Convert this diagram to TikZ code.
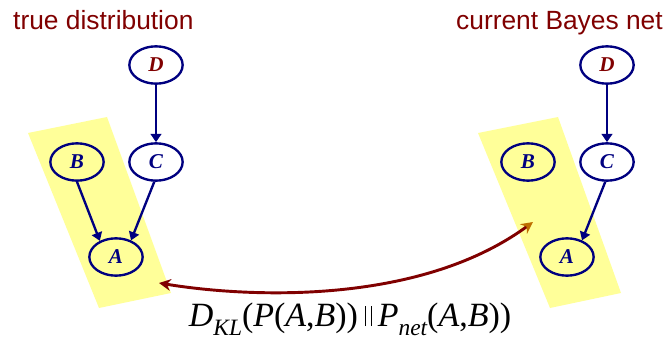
\documentclass[tikz,border=0pt]{standalone}
\usepackage{fontspec}
\setmainfont{Liberation Serif}
\newfontfamily\titlefont{Liberation Sans}
\usetikzlibrary{arrows.meta,shapes.geometric}
\definecolor{darkred}{RGB}{128,0,0}
\definecolor{netblue}{RGB}{0,0,128}
\definecolor{hilite}{RGB}{255,255,153}
\definecolor{tipbrown}{RGB}{190,110,0}
\newcommand{\lowsub}[1]{\raisebox{-8pt}{\fontsize{20}{20}\selectfont\itshape #1}}
\newcommand{\normbars}{\kern6pt\rule{1.2pt}{17pt}\kern3.5pt\rule{1.2pt}{17pt}\kern5pt}
\begin{document}
\begin{tikzpicture}[x=0.03cm, y=-0.03cm,
      var/.style={ellipse, draw=netblue, line width=2pt, minimum width=1.6cm, minimum height=1.12cm, inner sep=0pt, text=netblue, font=\fontsize{18}{18}\selectfont\bfseries\itshape},
      edge/.style={-{Triangle[length=7pt,width=9pt]}, draw=netblue, line width=2pt},
      title/.style={text=darkred, font=\titlefont\fontsize{22.5}{26}\selectfont, inner sep=0pt},
      kl/.style={{Stealth[length=10pt,width=10pt]}-{Stealth[length=10pt,width=10pt,color=tipbrown]}, draw=darkred, line width=2.5pt}
    ]
    \useasboundingbox (0,0) rectangle (668,341);

    % highlighted pairs A,B
    \fill[hilite] (28,133) -- (107,117) -- (171,293) -- (99,308) -- cycle;
    \fill[hilite] (478,133) -- (558,117) -- (621,293) -- (550,308) -- cycle;

    \foreach \g/\dx in {true/0,net/451} {
      \node[var, text=darkred] (D-\g) at (156+\dx,65) {D};
      \node[var] (C-\g) at (156+\dx,162) {C};
      \node[var] (B-\g) at (77+\dx,162) {B};
      \node[var] (A-\g) at (116+\dx,257) {A};
      \draw[edge] (D-\g) -- (C-\g);
      \draw[edge] (C-\g.265) -- (A-\g.48);
    }
    \draw[edge] (B-true.south) -- (A-true.135);

    \node[title, anchor=base west] (ttl-true) at (13,30) {true distribution};
    \node[title, anchor=base east] (ttl-net) at (663,30) {current Bayes net};

    \coordinate (kl-true) at (159,283);
    \coordinate (kl-net) at (533,222);
    \draw[kl] (kl-true) .. controls (250,298) and (420,305) .. (kl-net);

    \node[anchor=base, inner sep=0pt, font=\fontsize{29}{29}\selectfont] (kl-text) at (350,326)
      {\textit{D}\lowsub{KL}(\textit{P}(\textit{A},\textit{B}))\normbars\textit{P}\lowsub{net}(\textit{A},\textit{B}))};
\end{tikzpicture}
\end{document}
